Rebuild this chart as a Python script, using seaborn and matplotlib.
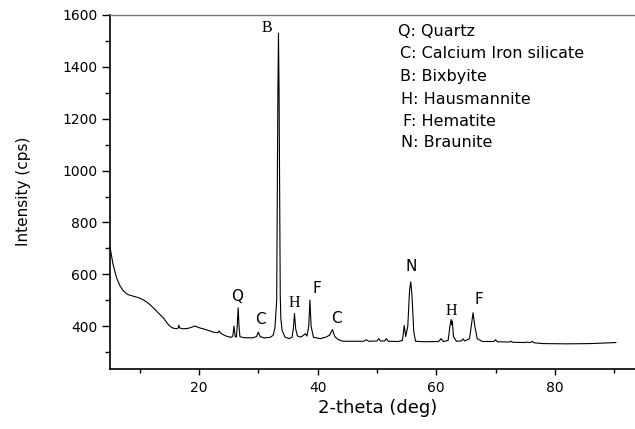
import numpy as np
import matplotlib
matplotlib.use("Agg")
import matplotlib.pyplot as plt
import seaborn as sns
from matplotlib.ticker import MultipleLocator

# XRD pattern (2-theta in deg, intensity in cps)
two_theta = [5.0, 5.5, 6.1, 6.7, 7.25, 8.0, 8.9, 9.8, 10.6, 11.5, 12.3, 13.2, 14.0, 14.6, 15.1,
             15.6, 16.2, 16.5, 16.6, 16.75, 17.35, 18.2, 18.9, 19.2, 19.6, 20.2, 21.0, 21.9, 22.6,
             23.2, 23.4, 23.6, 24.2, 24.7, 25.4, 25.7, 25.9, 26.1, 26.3, 26.45, 26.6, 26.75, 26.9,
             27.5, 29.0, 29.7, 30.0, 30.3, 31.0, 32.0, 32.5, 32.8, 33.1, 33.3, 33.4, 33.5, 33.7,
             33.8, 34.0, 34.5, 35.2, 35.7, 35.9, 36.1, 36.3, 36.6, 37.2, 37.6, 37.9, 38.2, 38.5,
             38.7, 38.9, 39.3, 40.5, 41.4, 42.0, 42.5, 42.9, 43.5, 44.3, 46.0, 47.8, 48.2, 48.6,
             50.0, 50.3, 50.6, 51.3, 51.6, 51.9, 53.5, 54.3, 54.6, 54.85, 55.2, 55.5, 55.7, 55.9,
             56.2, 56.5, 58.0, 60.4, 60.8, 61.2, 62.0, 62.3, 62.5, 62.6, 62.7, 62.9, 63.4, 64.2,
             64.5, 64.8, 65.6, 65.9, 66.2, 66.5, 66.9, 67.8, 69.7, 70.0, 70.3, 72.3, 72.6, 72.9,
             75.0, 75.3, 75.6, 75.9, 76.2, 76.5, 78.0, 82.0, 86.0, 90.3]
intensity = [705, 640, 587, 555, 536, 522, 516, 510, 502, 488, 471, 450, 432, 413, 400,
             393, 390, 393, 404, 393, 390, 392, 397, 401, 398, 393, 388, 381, 376,
             375, 382, 374, 366, 361, 357, 362, 400, 360, 358, 400, 471, 400, 360,
             356, 355, 360, 377, 360, 355, 357, 365, 393, 500, 1300, 1530, 1300, 520,
             430, 385, 358, 352, 358, 390, 449, 390, 362, 358, 365, 371, 362, 400,
             501, 400, 357, 352, 358, 365, 387, 360, 348, 342, 342, 342, 348, 342,
             343, 352, 343, 343, 352, 342, 341, 345, 403, 360, 400, 540, 571, 520,
             380, 342, 340, 341, 352, 341, 345, 400, 426, 405, 420, 360, 342, 343,
             351, 343, 352, 400, 452, 400, 352, 341, 341, 348, 340, 339, 342, 338,
             337, 339, 337, 338, 341, 336, 333, 332, 333, 337]

# phase labels above the peaks
peak_labels = ["B", "Q", "C", "H", "F", "C", "N", "H", "F"]
peak_x = [31.5, 26.4, 30.3, 36.1, 39.8, 43.1, 55.8, 62.5, 67.2]
peak_y = [1550, 513, 427, 489, 546, 430, 630, 458, 504]
serif_labels = ["B", "H"]

legend_lines = ["Q: Quartz", "C: Calcium Iron silicate", "B: Bixbyite",
                "H: Hausmannite", "F: Hematite", "N: Braunite"]

sns.set_theme(style="ticks")
plt.rcParams['font.family'] = ['DejaVu Sans']
plt.rcParams.update({"text.color": "black", "axes.labelcolor": "black",
                     "xtick.color": "black", "ytick.color": "black"})

W, H = 635, 429
fig = plt.figure(figsize=(W / 100, H / 100), dpi=100)
ax = fig.add_axes([110 / W, 1 - 369 / H, 1 - 110 / W, (369 - 15) / H])

sns.lineplot(x=two_theta, y=intensity, ax=ax, color="black", linewidth=0.8,
             estimator=None, sort=False)

ax.set_xlim(5, 93.5)
ax.set_ylim(235, 1600)
ax.xaxis.set_major_locator(MultipleLocator(20))
ax.xaxis.set_minor_locator(MultipleLocator(10))
ax.set_yticks([400, 600, 800, 1000, 1200, 1400, 1600])
ax.yaxis.set_minor_locator(MultipleLocator(100))
ax.tick_params(axis="both", which="major", labelsize=10, color="black",
               labelcolor="black", width=1.0)
ax.tick_params(axis="x", which="major", length=4.5, pad=4)
ax.tick_params(axis="x", which="minor", length=3, width=1.0, color="black")
ax.tick_params(axis="y", which="major", length=5.8, pad=3)
ax.tick_params(axis="y", which="minor", length=3.5, width=1.0, color="black")

for side in ["left", "bottom"]:
    ax.spines[side].set_color("black")
    ax.spines[side].set_linewidth(1.2)
ax.spines["top"].set_color("#777777")
ax.spines["top"].set_linewidth(1.0)
ax.spines["right"].set_visible(False)

ax.set_xlabel("2-theta (deg)", fontsize=13, color="black")
ax.xaxis.set_label_coords(0.51, -0.085)
ax.set_ylabel("Intensity (cps)", fontsize=11, color="black")
ax.yaxis.set_label_coords(-0.150, 0.503)

for lab, px, py in zip(peak_labels, peak_x, peak_y):
    if lab in serif_labels:
        ax.text(px, py, lab, ha="center", va="center", fontsize=11.5, color="black",
                family=['Liberation Serif', 'DejaVu Serif'])
    else:
        ax.text(px, py, lab, ha="center", va="center", fontsize=11, color="black")

legend_x = [398, 400, 400, 401, 403, 401]
legend_y = [32, 53, 77, 100, 122, 143]
for txt, lx, ly in zip(legend_lines, legend_x, legend_y):
    fig.text(lx / W, 1 - ly / H, txt, ha="left", va="center", fontsize=11.5, color="black")

fig.savefig("out.png", dpi=100)
